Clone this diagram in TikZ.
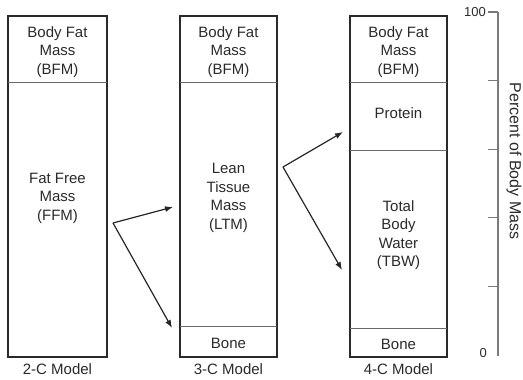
\documentclass[tikz,border=0pt]{standalone}
\usepackage{fontspec}
\setmainfont{Liberation Sans}
\usepackage{tikz}
\usetikzlibrary{arrows.meta,positioning}
\definecolor{Ink}{HTML}{2A2A2A}
\definecolor{Rule}{HTML}{6A6A6A}
\definecolor{Axis}{HTML}{7A7A7A}
\tikzset{
  part/.style={align=center,font=\fontsize{15}{18.5}\selectfont,inner sep=0pt,text=Ink},
  caption/.style={part,font=\fontsize{15}{17}\selectfont},
  scalelabel/.style={inner sep=0pt,font=\fontsize{13}{15}\selectfont,text=Ink},
  modelbox/.style={draw=Ink,line width=1.6pt},
  divider/.style={draw=Rule,line width=0.9pt},
  arrow/.style={-{Latex[length=8pt,width=6pt]},line width=1.2pt,color=black!85},
  axisline/.style={draw=Axis,line width=1.1pt}
}

\begin{document}
\begin{tikzpicture}[x=1pt,y=-1pt]
  \useasboundingbox (0,0) rectangle (523,380);

  \draw[modelbox] (8,16) rectangle (107,357);
  \draw[divider] (8,82) -- (107,82);
  \node[part] (bfmA) at (57.5,52) {Body Fat\\Mass\\(BFM)};
  \node[part] (ffm) at (57.5,198) {Fat Free\\Mass\\(FFM)};
  \node[caption] (twoC) at (57.5,369) {2-C Model};

  \draw[modelbox] (180,16) rectangle (277,357);
  \draw[divider] (180,82) -- (277,82);
  \draw[divider] (180,326) -- (277,326);
  \node[part] (bfmB) at (228.5,52) {Body Fat\\Mass\\(BFM)};
  \node[part] (ltm) at (228.5,198) {Lean\\Tissue\\Mass\\(LTM)};
  \node[part] (boneB) at (228.5,343) {Bone};
  \node[caption] (threeC) at (228.5,369) {3-C Model};

  \draw[modelbox] (350,16) rectangle (447,357);
  \draw[divider] (350,82) -- (447,82);
  \draw[divider] (350,150) -- (447,150);
  \draw[divider] (350,328) -- (447,328);
  \node[part] (bfmC) at (398.5,52) {Body Fat\\Mass\\(BFM)};
  \node[part] (protein) at (398.5,113) {Protein};
  \node[part] (tbw) at (398.5,235) {Total\\Body\\Water\\(TBW)};
  \node[part] (boneC) at (398.5,344) {Bone};
  \node[caption] (fourC) at (398.5,369) {4-C Model};

  \coordinate (splitFFM) at (113,223);
  \coordinate (toLTM) at (173,207);
  \coordinate (toBoneB) at (172,328);
  \draw[arrow] (splitFFM) -- (toLTM);
  \draw[arrow] (splitFFM) -- (toBoneB);

  \coordinate (splitLTM) at (283,167);
  \coordinate (toProtein) at (343,132);
  \coordinate (toTBW) at (342,270);
  \draw[arrow] (splitLTM) -- (toProtein);
  \draw[arrow] (splitLTM) -- (toTBW);

  \draw[axisline] (498,12) -- (498,356);
  \foreach \y in {12,80.6,149.2,217.8,286.4}
    \draw[axisline] (488,\y) -- (498,\y);
  \node[scalelabel,anchor=east] (top) at (486,12) {100};
  \node[scalelabel,anchor=east] (bottom) at (487,353) {0};
  \node[part,rotate=-90,font=\fontsize{16}{18}\selectfont] (percent) at (514,161) {Percent of Body Mass};
\end{tikzpicture}
\end{document}
